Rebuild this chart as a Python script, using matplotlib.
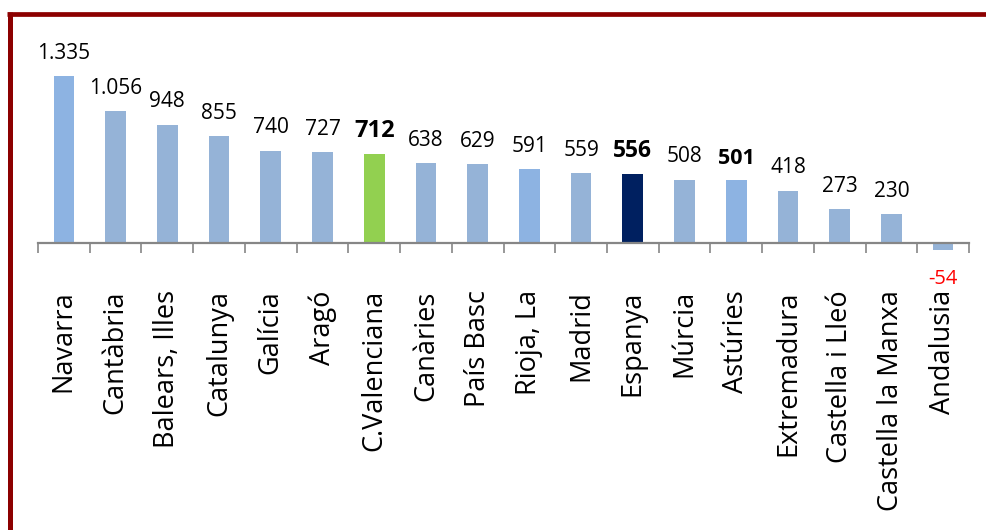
import matplotlib
matplotlib.use("Agg")
import matplotlib.pyplot as plt
from matplotlib.lines import Line2D
from matplotlib.ticker import FixedLocator, NullFormatter

plt.rcParams['font.family'] = ['Open Sans', 'DejaVu Sans']

regions = ["Navarra", "Cantàbria", "Balears, Illes", "Catalunya", "Galícia",
           "Aragó", "C.Valenciana", "Canàries", "País Basc", "Rioja, La",
           "Madrid", "Espanya", "Múrcia", "Astúries", "Extremadura",
           "Castella i Lleó", "Castella la Manxa", "Andalusia"]
values = [1335, 1056, 948, 855, 740, 727, 712, 638, 629, 591,
          559, 556, 508, 501, 418, 273, 230, -54]
value_labels = ["1.335", "1.056", "948", "855", "740", "727", "712", "638",
                "629", "591", "559", "556", "508", "501", "418", "273", "230", "-54"]

LIGHT = "#8DB3E2"
MID = "#95B3D7"
colors = [LIGHT, MID, MID, MID, MID, MID, "#92D050", MID, MID, LIGHT,
          MID, "#002060", MID, LIGHT, MID, MID, MID, MID]

W, H = 986, 530
fig = plt.figure(figsize=(W / 100, H / 100), dpi=100)

# axes placed so that 0 sits on the baseline and 1 unit = 0.125 px
ymin, ymax = -100, 1500
px_per_unit = 0.125
base_px = 243
bottom_px = base_px + (0 - ymin) * px_per_unit
height_px = (ymax - ymin) * px_per_unit
left_px, right_px = 38, 969
ax = fig.add_axes([left_px / W, 1 - bottom_px / H,
                   (right_px - left_px) / W, height_px / H])

x = list(range(len(regions)))
ax.bar(x, values, width=0.4, color=colors, edgecolor="none", zorder=2)
ax.set_xlim(-0.5, len(regions) - 0.5)
ax.set_ylim(ymin, ymax)

for s in ("top", "right", "left"):
    ax.spines[s].set_visible(False)
ax.spines["bottom"].set_position(("data", 0))
ax.spines["bottom"].set_color("#868686")
ax.spines["bottom"].set_linewidth(1.6)
ax.spines["bottom"].set_zorder(3)
ax.yaxis.set_visible(False)

# boundary tick marks, labels at the category centres
ax.xaxis.set_major_locator(FixedLocator([i - 0.5 for i in range(len(regions) + 1)]))
ax.xaxis.set_major_formatter(NullFormatter())
ax.xaxis.set_minor_locator(FixedLocator(x))
ax.set_xticks(x, minor=True)
ax.set_xticklabels(regions, minor=True, rotation=90, fontsize=19.5)
ax.tick_params(axis="x", which="major", length=7.5, width=1.2,
               color="#868686", direction="out")
ax.tick_params(axis="x", which="minor", length=0, pad=34)

bold_sizes = {6: 17, 11: 16.5, 13: 15.5}
for i, (v, lab) in enumerate(zip(values, value_labels)):
    if v >= 0:
        if i in bold_sizes:
            ax.annotate(lab, (i, v), xytext=(0, 12), textcoords="offset points",
                        ha="center", va="baseline", fontsize=bold_sizes[i],
                        fontweight="bold", color="black")
        else:
            ax.annotate(lab, (i, v), xytext=(0, 12.5), textcoords="offset points",
                        ha="center", va="baseline", fontsize=15, color="black")
    else:
        ax.annotate(lab, (i, v), xytext=(0, -14), textcoords="offset points",
                    ha="center", va="top", fontsize=14.5, color="#FF0000")

# dark red frame on top and left
frame = "#8C0000"
fig.add_artist(Line2D([7 / W, 1], [1 - 14.3 / H, 1 - 14.3 / H],
                      transform=fig.transFigure, color=frame, lw=3.4,
                      solid_capstyle="butt"))
fig.add_artist(Line2D([9.5 / W, 9.5 / W], [0, 1 - 12 / H],
                      transform=fig.transFigure, color=frame, lw=3.6,
                      solid_capstyle="butt"))

fig.savefig("out.png", dpi=100)
